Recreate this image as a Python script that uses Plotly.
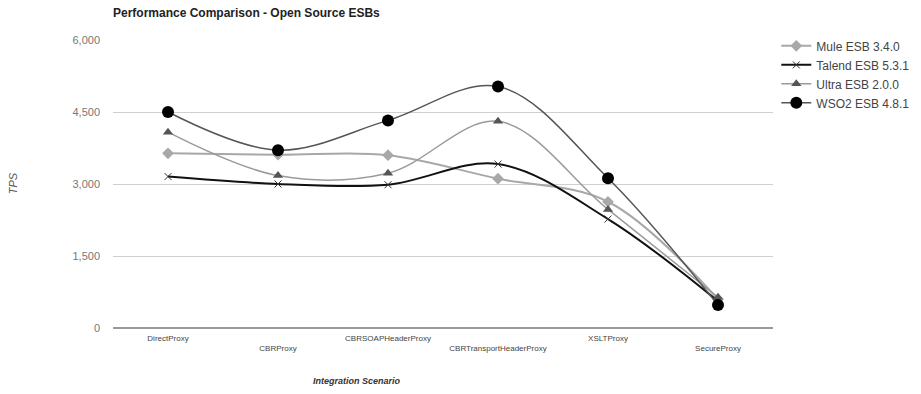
import plotly.graph_objects as go

categories = ["DirectProxy", "CBRProxy", "CBRSOAPHeaderProxy",
              "CBRTransportHeaderProxy", "XSLTProxy", "SecureProxy"]
mule = [3640, 3610, 3600, 3110, 2630, 600]
talend = [3155, 3000, 2985, 3415, 2270, 560]
ultra = [4080, 3175, 3225, 4305, 2470, 640]
wso2 = [4500, 3705, 4325, 5030, 3120, 480]
y_ticks = [0, 1500, 3000, 4500, 6000]

x_idx = list(range(len(categories)))
tick_text = [("<br>" + c) if i % 2 else c for i, c in enumerate(categories)]

fig = go.Figure()
fig.add_trace(go.Scatter(
    x=x_idx, y=mule, name="Mule ESB 3.4.0", mode="lines+markers",
    line=dict(color="#a8a8a8", width=2, shape="spline", smoothing=1),
    marker=dict(symbol="diamond", size=9, color="#a8a8a8")))
fig.add_trace(go.Scatter(
    x=x_idx, y=talend, name="Talend ESB 5.3.1", mode="lines+markers",
    line=dict(color="#111111", width=2, shape="spline", smoothing=1),
    marker=dict(symbol="x-thin", size=7, color="#333333",
                line=dict(width=1, color="#333333"))))
fig.add_trace(go.Scatter(
    x=x_idx, y=ultra, name="Ultra ESB 2.0.0", mode="lines+markers",
    line=dict(color="#9a9a9a", width=1.5, shape="spline", smoothing=1),
    marker=dict(symbol="triangle-up", size=9, color="#555555")))
fig.add_trace(go.Scatter(
    x=x_idx, y=wso2, name="WSO2 ESB 4.8.1", mode="lines+markers",
    line=dict(color="#555555", width=1.5, shape="spline", smoothing=1),
    marker=dict(symbol="circle", size=12, color="#000000")))

fig.update_layout(
    width=921, height=394,
    margin=dict(l=113, r=148, t=40, b=66, autoexpand=False),
    paper_bgcolor="white", plot_bgcolor="white",
    font=dict(family="Liberation Sans, Arial, sans-serif", color="#444444"),
    title=dict(text="<b>Performance Comparison - Open Source ESBs</b>",
               x=113 / 921, xanchor="left", y=1 - 13 / 394, yanchor="middle",
               font=dict(size=12, color="#222222")),
    showlegend=True,
    legend=dict(x=1.005, xanchor="left", y=1.03, yanchor="top",
                font=dict(size=12, color="#444444"),
                bgcolor="rgba(0,0,0,0)", itemwidth=30, tracegroupgap=0),
    xaxis=dict(range=[-0.5, 5.5], tickvals=x_idx, ticktext=tick_text,
               showgrid=False, zeroline=False, showline=False, ticks="",
               ticklabelstandoff=4, automargin=False,
               tickfont=dict(size=8, color="#444444"), tickangle=0),
    yaxis=dict(range=[0, 6000], tickvals=y_ticks, tickformat=",",
               showgrid=True, gridcolor="#d0d0d0", gridwidth=1,
               zeroline=True, zerolinecolor="#9a9a9a", zerolinewidth=1.5,
               ticks="", ticklabelstandoff=12, automargin=False,
               tickfont=dict(size=11, color="#777777")),
)

fig.add_annotation(text="<i>TPS</i>", xref="paper", yref="paper",
                   x=-100 / 660, y=(327.5 - 183) / 287.5, textangle=-90,
                   xanchor="center", yanchor="middle", showarrow=False,
                   font=dict(size=11, color="#555555"))
fig.add_annotation(text="<b><i>Integration Scenario</i></b>",
                   xref="paper", yref="paper", x=(357 - 113) / 660, y=-53 / 287.5,
                   xanchor="center", yanchor="middle", showarrow=False,
                   font=dict(size=9, color="#333333"))

fig.write_html("out.html", config={"displayModeBar": False},
               post_script="document.body.style.margin='0';")
